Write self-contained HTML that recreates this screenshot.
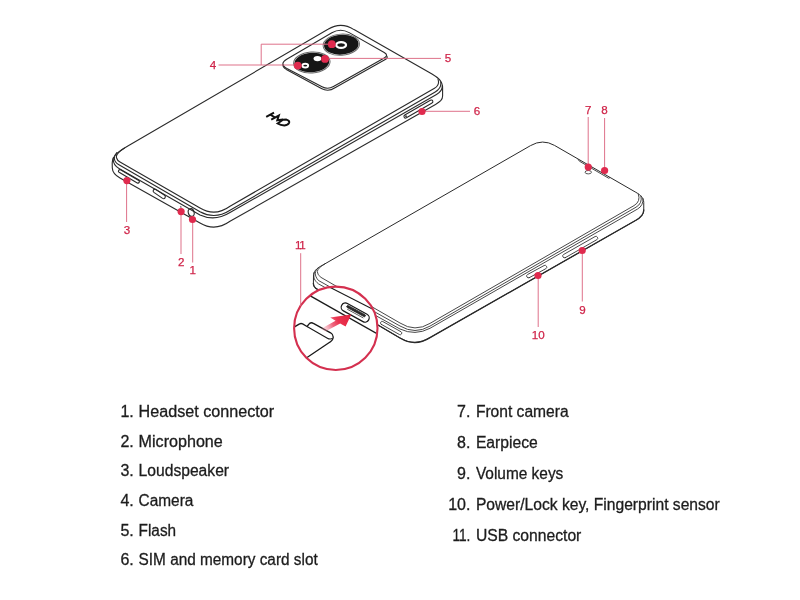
<!DOCTYPE html>
<html>
<head>
<meta charset="utf-8">
<title>Keys and parts</title>
<style>
html,body{margin:0;padding:0;background:#fff;}
body{width:800px;height:600px;position:relative;overflow:hidden;font-family:"Liberation Sans",sans-serif;}
svg{position:absolute;left:0;top:0;}
.k{fill:none;stroke:#2a2a2a;stroke-width:1.1;stroke-linecap:round;stroke-linejoin:round;}
.k2{fill:none;stroke:#333;stroke-width:0.9;stroke-linecap:round;stroke-linejoin:round;}
.kw{fill:#fff;stroke:#2a2a2a;stroke-width:1.1;stroke-linecap:round;stroke-linejoin:round;}
.r{fill:none;stroke:#dc6a84;stroke-width:0.95;}
.d{fill:#e02a4e;stroke:none;}
.n{font-family:"Liberation Sans",sans-serif;font-size:11.6px;fill:#cf2449;stroke:#cf2449;stroke-width:0.25;text-anchor:middle;}
.t{font-family:"Liberation Sans",sans-serif;font-size:16px;fill:#1c1c1c;stroke:#1c1c1c;stroke-width:0.3px;}
</style>
</head>
<body>
<svg width="800" height="600" viewBox="0 0 800 600">
<defs>
<linearGradient id="ag" gradientUnits="userSpaceOnUse" x1="321" y1="331" x2="350" y2="315">
<stop offset="0" stop-color="#f29aaa" stop-opacity="0.08"/>
<stop offset="0.4" stop-color="#ec5570" stop-opacity="0.9"/>
<stop offset="0.6" stop-color="#ea3450" stop-opacity="1"/>
<stop offset="1" stop-color="#e2223f" stop-opacity="1"/>
</linearGradient>
<clipPath id="mc"><circle cx="335.8" cy="328.3" r="41.7"/></clipPath>
</defs>
<rect x="0" y="0" width="800" height="600" fill="#fff"/>
<g id="back">
<path class="kw" d="M130,144.8 C120,150.6 112.2,155 112.2,163 L112.3,168 C112.5,173 116,175.8 120,178 L200,223 Q215,232 230,221.3 L435.5,104.4 C440,101.8 442.6,100 442.6,96 L442.6,88 C442.6,81 438,77.5 432,74 L354,29.6 Q341,21.3 328,29.3 Z"/>
<path class="k" d="M124.5,148 Q115,154 116.6,158 Q117.2,160.4 120,162 L200,208 Q215,217.1 230,206.25 L434.5,88.2 Q440,85 438,79.4"/>
<path class="k" d="M116.8,152.6 C113.2,156.5 113.5,161.8 118.5,164.4 L200,211.75 Q215,220 230,210.25 L435.2,92 Q441.5,88.5 440.8,82.4"/>
<path class="k" d="M113.4,157.5 C112.6,162.5 114,165.6 119,168.4 L200,214.9 Q215,221.8 230,212.5 L436.5,94.4 Q442.4,91 442.3,86"/>
<path class="k" d="M119.07,172.35 L137.27,182.95 A1.45,1.45 0 0 0 138.73,180.45 L120.53,169.85 A1.45,1.45 0 0 0 119.07,172.35 Z"/>
<path class="k" d="M153.88,192.38 L162.58,198.38 A1.80,1.80 0 0 0 164.62,195.42 L155.92,189.42 A1.80,1.80 0 0 0 153.88,192.38 Z"/>
<path d="M180,207.4 L180.8,205.8 L181.8,207.6 Z" fill="#2a2a2a"/>
<ellipse class="k" cx="191.2" cy="212.5" rx="2.9" ry="3.9" transform="rotate(-15 191.2 212.5)"/>
<path class="k" d="M406.43,117.83 L432.03,103.03 A1.65,1.65 0 0 0 430.37,100.17 L404.77,114.97 A1.65,1.65 0 0 0 406.43,117.83 Z"/>
<circle cx="406" cy="116.2" r="0.9" fill="#2a2a2a"/>
<path class="k" d="M287.37,68.72 Q278.50,64.10 287.12,59.04 L331.88,32.76 Q340.50,27.70 349.20,32.63 L384.22,52.49 Q389.00,55.20 384.21,57.91 L333.46,86.60 Q327.80,89.80 322.04,86.80 Z"/>
<path class="k" d="M283,64.4 Q282.2,66.6 286.3,69.4 L321.4,88.5 Q328.2,92.3 335,87.8 L384.4,60 Q388.4,57.8 386.8,56"/>
<ellipse cx="341.3" cy="44.7" rx="18.2" ry="10.6" fill="#fff" stroke="#6a6a6a" stroke-width="1" transform="rotate(-4 341.3 44.7)"/>
<ellipse cx="341.3" cy="44.7" rx="17.3" ry="9.9" fill="#161616" transform="rotate(-4 341.3 44.7)"/>
<ellipse cx="311.8" cy="62.5" rx="18.3" ry="10.5" fill="#fff" stroke="#6a6a6a" stroke-width="1" transform="rotate(-4 311.8 62.5)"/>
<ellipse cx="311.8" cy="62.5" rx="17.4" ry="9.8" fill="#161616" transform="rotate(-4 311.8 62.5)"/>
<ellipse cx="341.1" cy="45" rx="4.9" ry="2.9" fill="#161616" stroke="#fff" stroke-width="2.3"/>
<ellipse cx="317.5" cy="58.6" rx="3.9" ry="2.6" fill="#fff"/>
<ellipse cx="305.25" cy="65.6" rx="2.9" ry="1.9" fill="#161616" stroke="#fff" stroke-width="1.9"/>
<g stroke="#111" stroke-width="2" fill="none" stroke-linejoin="miter">
<path d="M266.2,116.9 L274,112.7"/>
<path d="M270.4,114.6 L275,117.5"/>
<path d="M271.2,119.6 L278.8,115.6 L277.3,120.3 L283,119.6"/>
<path d="M277.6,123.5 L283,119.8 L286.4,119.6 Q289.6,120.5 289.2,122.5 Q288.4,125.2 284.4,125.5 Q280.6,125.4 277.6,123.5 Z"/>
</g>
</g>
<g id="front">
<path class="kw" style="stroke-width:1" d="M322,265.5 C316,268.6 313.5,271.5 313.5,276 L313.4,283.5 C313.4,286.5 315,288 317.5,289.4 L400,338 Q415,347.2 430,337.6 L635.5,220.5 C640,218 643.75,215 643.75,210 L643.75,202.5 C643.75,197 639,194 634,191.25 L554.5,145.4 Q542.7,138.6 530.9,145.4 Z"/>
<path class="k" style="stroke-width:1.3" d="M313.4,283.5 C313.4,286.5 315,288 317.5,289.4 L400,338 Q415,347.2 430,337.6 L635.5,220.5 C640,218 643.75,215 643.75,210"/>
<path class="k2" d="M325,263.8 Q317.6,268 317.3,271.6 Q317.4,275 321,277.4 L400,323 Q415,332.6 430,323.4 L634,205.6 Q641,201.5 638.3,194"/>
<path class="k2" d="M318.5,267.6 C314.4,270.5 314,275.5 318.5,280.5 L400,326 Q415,334.95 430,326.1 L636,207.2 Q642.6,203.4 641,196"/>
<path class="k2" d="M314.2,272.5 C313,277.5 314.4,280.6 318.5,283.9 L400,329 Q415,336.15 430,328.3 L637.6,209 Q643.4,205.6 643,198.6"/>
<path class="k2" d="M381.22,324.29 L399.52,334.59 A1.60,1.60 0 0 0 401.08,331.81 L382.78,321.51 A1.60,1.60 0 0 0 381.22,324.29 Z"/>
<path class="k2" d="M565.29,257.66 L596.89,239.66 A1.80,1.80 0 0 0 595.11,236.54 L563.51,254.54 A1.80,1.80 0 0 0 565.29,257.66 Z"/>
<path class="k2" d="M529.26,277.68 L545.86,268.68 A1.80,1.80 0 0 0 544.14,265.52 L527.54,274.52 A1.80,1.80 0 0 0 529.26,277.68 Z"/>
<path d="M578,159.2 L579.4,161.2 L608.6,178.2 L610,177.6" fill="none" stroke="#333" stroke-width="0.9"/>
<ellipse cx="588.25" cy="172.2" rx="3.2" ry="1.7" fill="#fff" stroke="#444" stroke-width="0.9"/>
</g>
<g id="mag">
<circle cx="335.8" cy="328.3" r="41.7" fill="#fff"/>
<g clip-path="url(#mc)">
<path d="M305,292.9 L385,338.2" stroke="#1a1a1a" stroke-width="1.4" fill="none"/>
<path d="M325,284.8 L380,312.9" stroke="#1a1a1a" stroke-width="1.1" fill="none"/>
<path d="M343.39,310.89 L362.99,321.59 A4.20,4.20 0 0 0 367.01,314.21 L347.41,303.51 A4.20,4.20 0 0 0 343.39,310.89 Z" fill="#fff" stroke="#1a1a1a" stroke-width="1.25"/>
<path d="M347.28,307.57 L363.88,316.57 A1.10,1.10 0 0 0 364.92,314.63 L348.32,305.63 A1.10,1.10 0 0 0 347.28,307.57 Z" fill="#2b2b2b" stroke="#1d1d1d" stroke-width="0.8"/>
<path d="M347.2,309.2 L363.4,318" stroke="#333" stroke-width="0.8" fill="none"/>
<path d="M288,330.6 L299.6,323.9 Q301,323 302.6,323.9 L307,326.5 L309.6,323.4 Q311.4,322.2 313.4,323.4 L330.6,332.8 Q333.2,334.4 333.2,337 L333.1,338 Q332.8,340.4 330.4,341.8 L300,362.2" fill="#fff" stroke="#1a1a1a" stroke-width="1.35" stroke-linejoin="round"/>
<path d="M307,326.5 L327.4,338.2 Q329.6,339.6 332.6,338.6" fill="none" stroke="#1a1a1a" stroke-width="1.1"/>
<path d="M320.7,328.9 L335.55,320.7 L330.2,317.6 L351.3,314.5 L345.6,326.6 L340.15,323.4 L325.3,331.6 Z" fill="url(#ag)"/>
</g>
<circle cx="335.8" cy="328.3" r="41.7" fill="none" stroke="#d4304f" stroke-width="2.1"/>
</g>
<g id="call" style="filter:saturate(1)">
<path class="r" d="M218.5,65 L297.8,65 M261.2,65 L261.2,44.2 L332,44.2"/>
<circle class="d" cx="331.8" cy="44.2" r="3.9"/>
<circle class="d" cx="297.8" cy="65.6" r="3.9"/>
<text class="n" x="212.9" y="68.6">4</text>
<path class="r" d="M325,58.4 L441,58.4"/>
<circle class="d" cx="325" cy="58.9" r="3.9"/>
<text class="n" x="448" y="61.7">5</text>
<path class="r" d="M422,111.3 L470,111.3"/>
<circle class="d" cx="422" cy="111.5" r="3.6"/>
<text class="n" x="477" y="114.7">6</text>
<path class="r" d="M126.6,181 L126.6,222"/>
<circle class="d" cx="126.9" cy="180.6" r="3.6"/>
<text class="n" x="127.1" y="233.8">3</text>
<path class="r" d="M181,211 L181,254"/>
<circle class="d" cx="181.1" cy="211.6" r="3.6"/>
<text class="n" x="181.2" y="265.6">2</text>
<path class="r" d="M192.7,220 L192.7,262.5"/>
<circle class="d" cx="192.5" cy="219.5" r="3.6"/>
<text class="n" x="192.7" y="273.6">1</text>
<path class="r" d="M588.2,117 L588.2,167"/>
<circle class="d" cx="588.25" cy="167.1" r="3.6"/>
<text class="n" x="588.2" y="113.9">7</text>
<path class="r" d="M604.6,118 L604.6,170"/>
<circle class="d" cx="604.6" cy="170.5" r="3.6"/>
<text class="n" x="604.6" y="113.9">8</text>
<path class="r" d="M582.3,250 L582.3,301.5"/>
<circle class="d" cx="582.2" cy="250.5" r="3.6"/>
<text class="n" x="582.5" y="313.6">9</text>
<path class="r" d="M538.2,275 L538.2,327"/>
<circle class="d" cx="538" cy="275.5" r="3.6"/>
<text class="n" x="538.2" y="339.2">10</text>
<path class="r" d="M300.7,253.2 L300.7,306"/>
<text class="n" x="299.7" y="249.4" style="letter-spacing:-1.3px">11</text>
</g>
<g id="txt" style="filter:grayscale(1)">
<text class="t" x="133.8" y="417.00" text-anchor="end">1.</text><text class="t" x="138.6" y="417.00" textLength="135.45" lengthAdjust="spacingAndGlyphs">Headset connector</text>
<text class="t" x="133.8" y="446.66" text-anchor="end">2.</text><text class="t" x="138.6" y="446.66" textLength="84.20" lengthAdjust="spacingAndGlyphs">Microphone</text>
<text class="t" x="133.8" y="476.32" text-anchor="end">3.</text><text class="t" x="138.6" y="476.32" textLength="90.45" lengthAdjust="spacingAndGlyphs">Loudspeaker</text>
<text class="t" x="133.8" y="505.98" text-anchor="end">4.</text><text class="t" x="138.6" y="505.98" textLength="54.80" lengthAdjust="spacingAndGlyphs">Camera</text>
<text class="t" x="133.8" y="535.64" text-anchor="end">5.</text><text class="t" x="138.6" y="535.64" textLength="37.50" lengthAdjust="spacingAndGlyphs">Flash</text>
<text class="t" x="133.8" y="565.30" text-anchor="end">6.</text><text class="t" x="138.6" y="565.30" textLength="179.10" lengthAdjust="spacingAndGlyphs">SIM and memory card slot</text>
<text class="t" x="470.4" y="416.90" text-anchor="end">7.</text><text class="t" x="475.9" y="416.90" textLength="92.70" lengthAdjust="spacingAndGlyphs">Front camera</text>
<text class="t" x="470.4" y="447.80" text-anchor="end">8.</text><text class="t" x="475.9" y="447.80" textLength="61.95" lengthAdjust="spacingAndGlyphs">Earpiece</text>
<text class="t" x="470.4" y="478.70" text-anchor="end">9.</text><text class="t" x="475.9" y="478.70" textLength="87.45" lengthAdjust="spacingAndGlyphs">Volume keys</text>
<text class="t" x="470.4" y="509.60" text-anchor="end">10.</text><text class="t" x="475.9" y="509.60" textLength="243.85" lengthAdjust="spacingAndGlyphs">Power/Lock key, Fingerprint sensor</text>
<text class="t" x="470.4" y="540.50" text-anchor="end" textLength="18" lengthAdjust="spacingAndGlyphs">11.</text><text class="t" x="475.9" y="540.50" textLength="105.45" lengthAdjust="spacingAndGlyphs">USB connector</text>
</g>
</svg>
</body>
</html>
